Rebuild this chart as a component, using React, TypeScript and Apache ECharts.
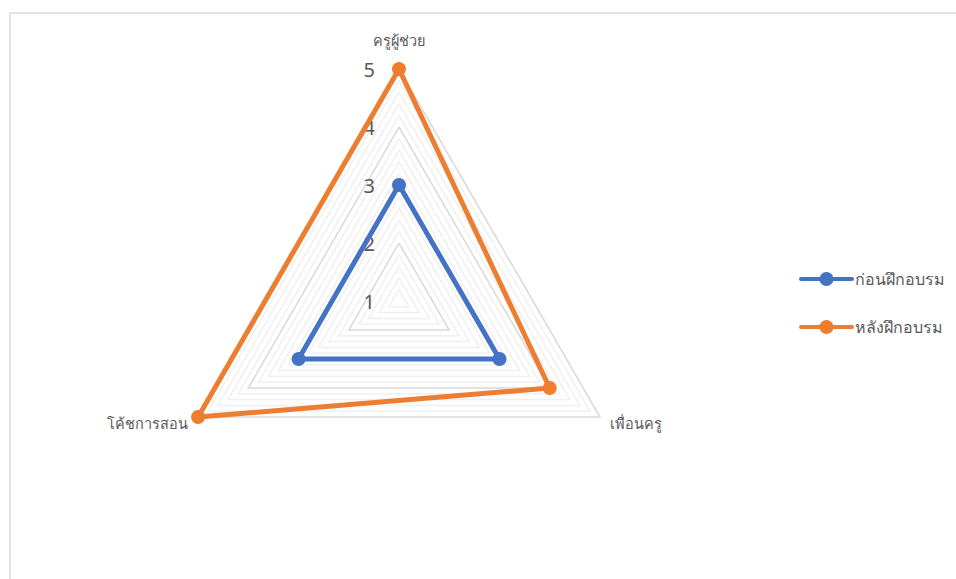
import React, { useEffect, useRef } from "react";
import * as echarts from "echarts";

const indicatorNames = ["ครูผู้ช่วย", "โค้ชการสอน", "เพื่อนครู"];
const seriesNames = ["ก่อนฝึกอบรม", "หลังฝึกอบรม"];
const beforeValues = [3, 3, 3];
const afterValues = [5, 5, 4];
const axisMin = 1;
const axisMax = 5;
const seriesColors = ["#4472C4", "#ED7D31"];

const FONT = "'Noto Sans', 'DejaVu Sans', sans-serif";
const LEGEND_ICON =
  "path://M2,5 H53 A2,2 0 0 1 53,9 H2 A2,2 0 0 1 2,5 Z M20.5,7 A7,7 0 1 1 34.5,7 A7,7 0 1 1 20.5,7 Z";

export default function App() {
  const ref = useRef<HTMLDivElement>(null);
  useEffect(() => {
    if (!ref.current) return;
    const chart = echarts.init(ref.current, null, { renderer: "svg" });
    const splitColors = ["#d9d9d9", "#f0f0f0", "#f0f0f0", "#f0f0f0", "#f0f0f0"];
    chart.setOption({
      animation: false,
      backgroundColor: "#ffffff",
      textStyle: { fontFamily: FONT },
      graphic: [
        {
          type: "rect",
          shape: { x: 10, y: 13, width: 980, height: 620 },
          style: { fill: "none", stroke: "#d9d9d9", lineWidth: 1.5 },
          silent: true,
        },
      ],
      legend: {
        orient: "vertical",
        left: 794,
        top: 266,
        itemWidth: 55,
        itemHeight: 14,
        itemGap: 32,
        icon: LEGEND_ICON,
        textStyle: { color: "#595959", fontSize: 16, fontFamily: FONT, padding: [0, 0, 0, -4] },
        data: seriesNames,
      },
      radar: {
        center: [399, 301],
        radius: 232,
        startAngle: 90,
        shape: "polygon",
        splitNumber: 20,
        nameGap: 12,
        axisName: {
          color: "#595959",
          fontSize: 14.5,
          fontFamily: FONT,
          padding: [0, 0, 10, 0],
        },
        indicator: indicatorNames.map((n, i) => ({
          name: n,
          min: axisMin,
          max: axisMax,
          axisLabel: { show: i === 0 },
        })),
        axisLine: { show: false },
        axisTick: { show: false },
        axisLabel: {
          show: true,
          color: "#595959",
          fontSize: 20,
          fontFamily: FONT,
          margin: 24,
          formatter: (v: number) =>
            Math.abs(v - Math.round(v)) < 1e-6 ? String(Math.round(v)) : "",
        },
        splitLine: { lineStyle: { color: splitColors, width: 1.5 } },
        splitArea: { show: false },
      },
      series: [
        {
          type: "radar",
          symbol: "circle",
          symbolSize: 14,
          data: [
            {
              name: seriesNames[0],
              value: beforeValues,
              itemStyle: { color: seriesColors[0] },
              lineStyle: { color: seriesColors[0], width: 5 },
            },
            {
              name: seriesNames[1],
              value: afterValues,
              itemStyle: { color: seriesColors[1] },
              lineStyle: { color: seriesColors[1], width: 5 },
            },
          ],
        },
      ],
    });
    return () => chart.dispose();
  }, []);
  return (
    <div
      ref={ref}
      style={{ position: "fixed", left: 0, top: 0, width: 956, height: 579 }}
    />
  );
}
